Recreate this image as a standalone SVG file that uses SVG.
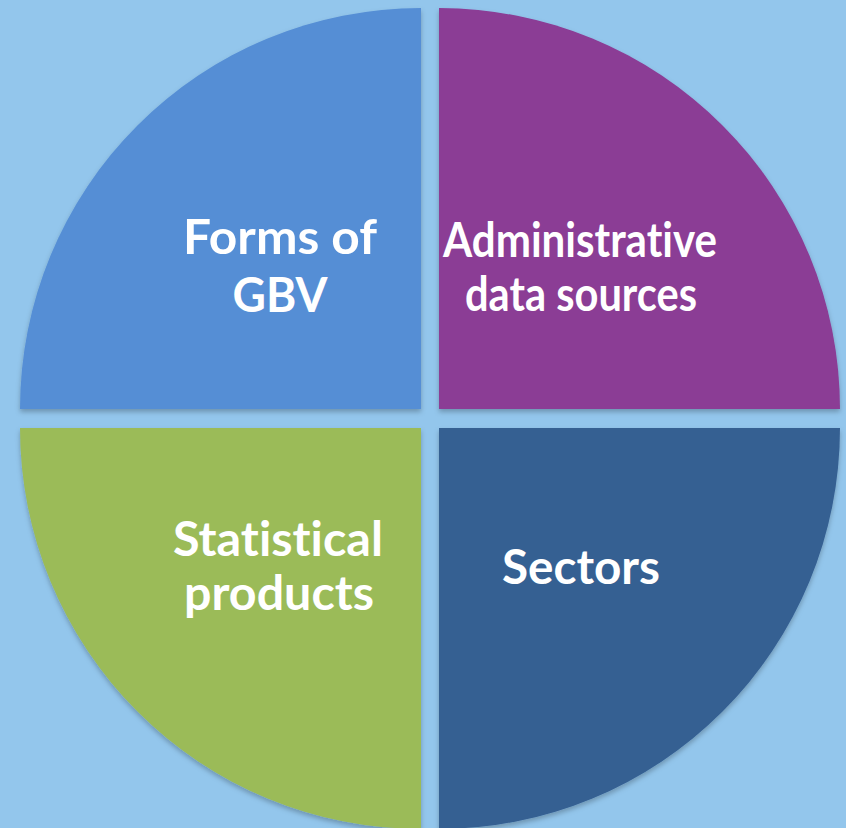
<svg xmlns="http://www.w3.org/2000/svg" width="846" height="828" viewBox="0 0 846 828">
<defs>
<filter id="sh" x="-5%" y="-5%" width="110%" height="110%">
<feDropShadow dx="0" dy="3" stdDeviation="2.5" flood-color="#000" flood-opacity="0.25"/>
</filter>
<style>
.q{filter:url(#sh)}
.t{font-family:Lato,"Open Sans","Liberation Sans",sans-serif;font-weight:bold;font-size:47px;fill:#fff;text-anchor:middle;font-variant-ligatures:none;font-feature-settings:"liga" 0,"dlig" 0}
</style>
</defs>
<rect x="0" y="0" width="846" height="828" fill="#93C6EC"/>
<g id="forms">
<path class="q" d="M421 409 L20 409 A401 401 0 0 1 421 8 Z" fill="#558ED5"/>
<text class="t" x="280" y="254" textLength="194" lengthAdjust="spacingAndGlyphs">Forms of</text>
<text class="t" x="280" y="312" textLength="95" lengthAdjust="spacingAndGlyphs">GBV</text>
</g>
<g id="admin">
<path class="q" d="M439 409 L439 8 A401 401 0 0 1 840 409 Z" fill="#8B3C95"/>
<text class="t" x="580" y="257" textLength="274" lengthAdjust="spacingAndGlyphs">Administrative</text>
<text class="t" x="581" y="311" textLength="232" lengthAdjust="spacingAndGlyphs">data sources</text>
</g>
<g id="stat">
<path class="q" d="M421 428 L421 829 A401 401 0 0 1 20 428 Z" fill="#9BBB59"/>
<text class="t" x="278" y="556" textLength="210" lengthAdjust="spacingAndGlyphs">Statistical</text>
<text class="t" x="279" y="610" textLength="190" lengthAdjust="spacingAndGlyphs">products</text>
</g>
<g id="sectors">
<path class="q" d="M439 428 L840 428 A401 401 0 0 1 439 829 Z" fill="#366092"/>
<text class="t" x="581" y="584" textLength="158" lengthAdjust="spacingAndGlyphs">Sectors</text>
</g>
<g id="connectors"/>
</svg>
